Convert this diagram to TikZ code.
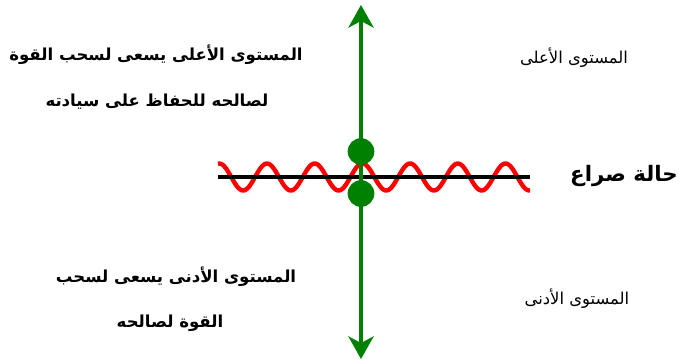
\documentclass[tikz,border=0pt]{standalone}
\usepackage{fontspec}
\usetikzlibrary{arrows.meta}
\TeXXeTstate=1
\newfontfamily\arabicfont[Script=Arabic]{DejaVu Sans}
\definecolor{dgreen}{RGB}{0,128,0}
\tikzset{
  garrow/.style={draw=dgreen, line width=2.3pt, {Stealth[length=17pt,width=19pt,inset=5pt]}-{Stealth[length=17pt,width=19pt,inset=5pt]}},
  gdot/.style={circle, fill=dgreen, inner sep=0pt, minimum size=20pt},
  axis/.style={draw=black, line width=2.3pt},
  wave/.style={draw=red, line width=3.3pt},
  boldtxt/.style={font=\arabicfont\bfseries\fontsize{12.4}{15}\selectfont, inner sep=0pt},
  plaintxt/.style={font=\arabicfont\fontsize{12.3}{14}\selectfont, inner sep=0pt},
  bigtxt/.style={font=\arabicfont\bfseries\fontsize{16}{18}\selectfont, inner sep=0pt}
}
\begin{document}
\begin{tikzpicture}[x=0.75pt,y=-0.75pt]
\useasboundingbox (0,0) rectangle (679,361);
% coordinates
\coordinate (top) at (361,5);
\coordinate (bot) at (361,359);
\coordinate (hl) at (218,177);
\coordinate (hr) at (530,177);
% wave
\draw[wave] plot[domain=218:530, samples=240, smooth] (\x, {177 - 13.5*cos(7.547*(\x-267))});
% horizontal line
\draw[axis] (hl) -- (hr);
% vertical arrow
\draw[garrow] (top) -- (bot);
% dots
\node[gdot] (updot) at (361,151.5) {};
\node[gdot] (downdot) at (361,193.5) {};
% texts
\node[boldtxt] (tl1) at (156,55) {\beginR المستوى الأعلى يسعى لسحب القوة\endR};
\node[boldtxt] (tl2) at (157,102) {\beginR لصالحه للحفاظ على سيادته\endR};
\node[boldtxt] (bl1) at (176,277) {\beginR المستوى الأدنى يسعى لسحب\endR};
\node[boldtxt] (bl2) at (170,323) {\beginR القوة لصالحه\endR};
\node[plaintxt] (tr) at (574,58) {\beginR المستوى الأعلى\endR};
\node[plaintxt] (br) at (577,299) {\beginR المستوى الأدنى\endR};
\node[bigtxt] (conf) at (624,176) {\beginR حالة صراع\endR};
\end{tikzpicture}
\end{document}
